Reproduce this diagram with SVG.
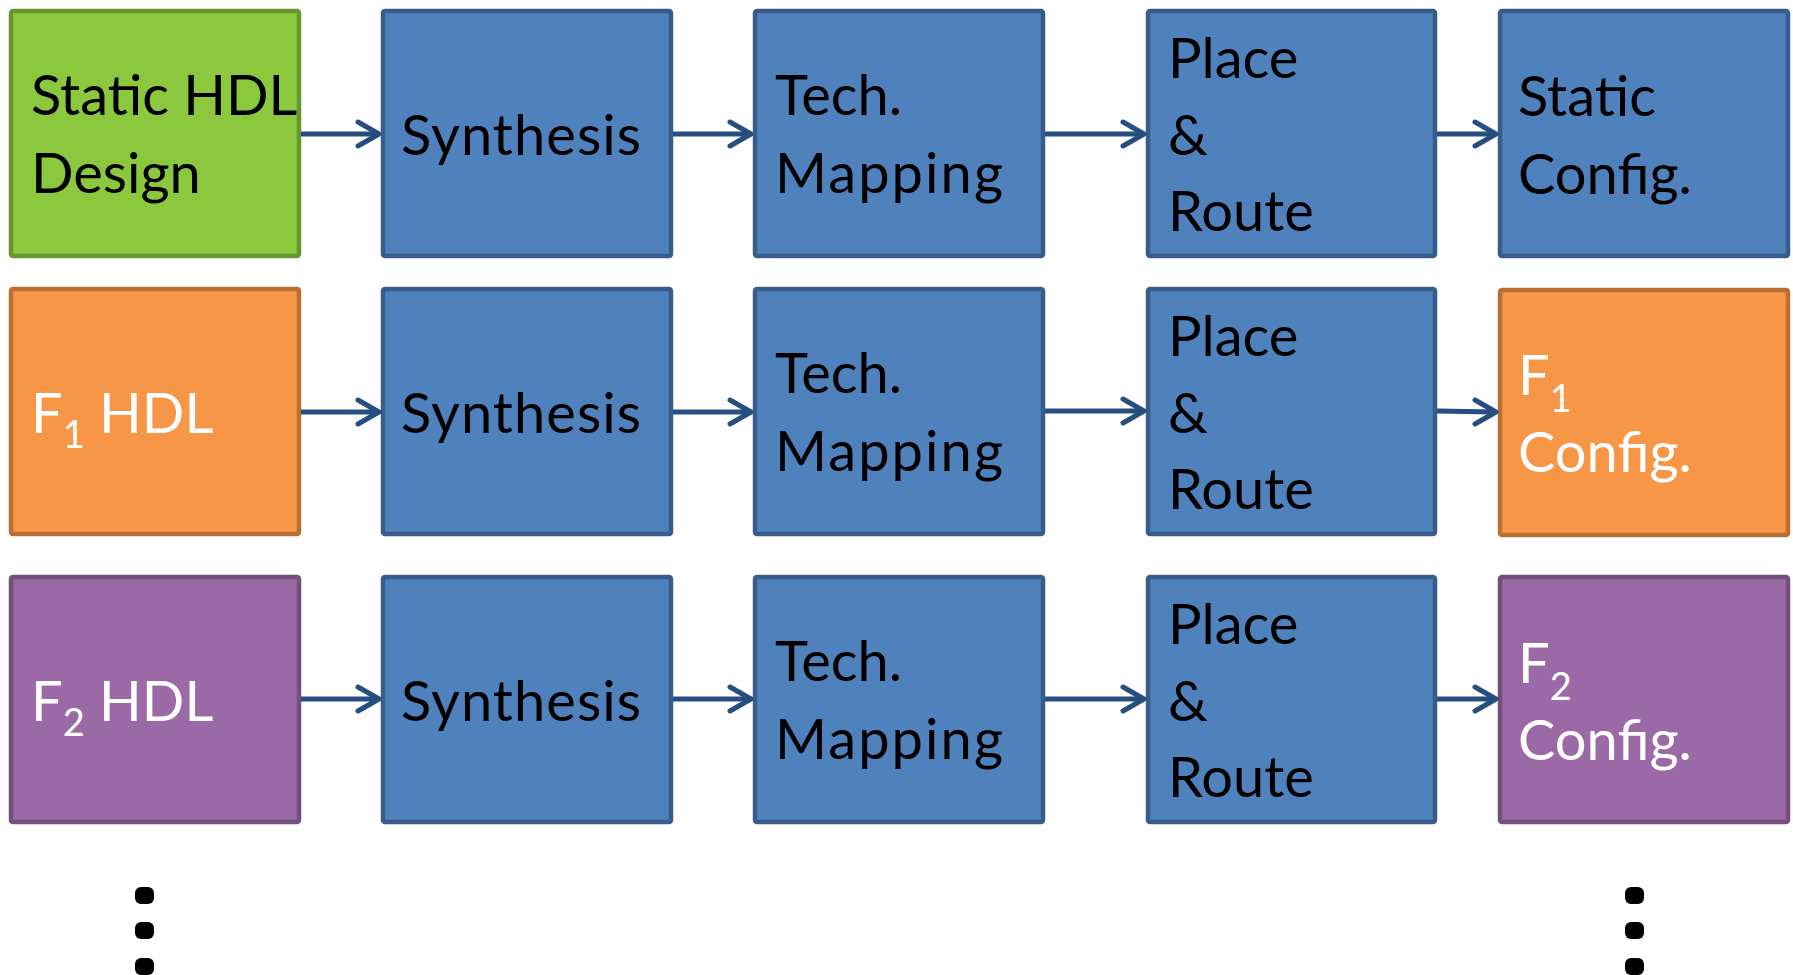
<svg xmlns="http://www.w3.org/2000/svg" width="1793" height="975" viewBox="0 0 1793 975">
  <defs>
    <style>
      .box { stroke-width: 4.5; }
      .green { fill: #8BC83D; stroke: #66962F; }
      .blue { fill: #4F81BD; stroke: #385D8A; }
      .orange { fill: #F79646; stroke: #B86F33; }
      .purple { fill: #9B69A6; stroke: #73507C; }
      .lbl { font-family: Lato, "Open Sans", "Noto Sans", sans-serif; font-size: 56px; }
      .dark { fill: #000000; }
      .light { fill: #FFFFFF; }
      .sub { font-size: 38px; }
      .conn line { stroke: #264E80; stroke-width: 5; }
      .conn path { fill: none; stroke: #264E80; stroke-width: 5; stroke-linecap: round; stroke-linejoin: round; }
      .dot { fill: #000000; }
    </style>
    <!-- one row of the flow: HDL source, synthesis, mapping, place & route, bitstream -->
  </defs>

  <rect width="1793" height="975" fill="#FFFFFF"/>

  <!-- Row 1: static design -->
  <g id="static-hdl">
    <rect class="box green" x="11" y="11" width="288" height="245" rx="2"/>
    <text class="lbl dark" x="31" y="115">Static HDL</text>
    <text class="lbl dark" x="31" y="193">Design</text>
  </g>
  <g id="synthesis-1">
    <rect class="box blue" x="383" y="11" width="288" height="245" rx="2"/>
    <text class="lbl dark" x="401" y="155" textLength="240">Synthesis</text>
  </g>
  <g id="mapping-1">
    <rect class="box blue" x="755" y="11" width="288" height="245" rx="2"/>
    <text class="lbl dark" x="775" y="115">Tech.</text>
    <text class="lbl dark" x="775" y="193" textLength="228">Mapping</text>
  </g>
  <g id="par-1">
    <rect class="box blue" x="1148" y="11" width="287" height="245" rx="2"/>
    <text class="lbl dark" x="1168" y="78">Place</text>
    <text class="lbl dark" x="1168" y="155">&amp;</text>
    <text class="lbl dark" x="1168" y="231">Route</text>
  </g>
  <g id="static-config">
    <rect class="box blue" x="1500" y="11" width="288" height="245" rx="2"/>
    <text class="lbl dark" x="1518" y="116">Static</text>
    <text class="lbl dark" x="1518" y="194">Config.</text>
  </g>

  <!-- Row 2: function F1 -->
  <g id="f1-hdl">
    <rect class="box orange" x="11" y="289" width="288" height="245" rx="2"/>
    <text class="lbl light" x="31" y="433">F<tspan class="sub" dy="15">1</tspan><tspan dy="-15"> HDL</tspan></text>
  </g>
  <g id="synthesis-2">
    <rect class="box blue" x="383" y="289" width="288" height="245" rx="2"/>
    <text class="lbl dark" x="401" y="433" textLength="240">Synthesis</text>
  </g>
  <g id="mapping-2">
    <rect class="box blue" x="755" y="289" width="288" height="245" rx="2"/>
    <text class="lbl dark" x="775" y="393">Tech.</text>
    <text class="lbl dark" x="775" y="471" textLength="228">Mapping</text>
  </g>
  <g id="par-2">
    <rect class="box blue" x="1148" y="289" width="287" height="245" rx="2"/>
    <text class="lbl dark" x="1168" y="356">Place</text>
    <text class="lbl dark" x="1168" y="433">&amp;</text>
    <text class="lbl dark" x="1168" y="509">Route</text>
  </g>
  <g id="f1-config">
    <rect class="box orange" x="1500" y="290" width="288" height="245" rx="2"/>
    <text class="lbl light" x="1518" y="395">F<tspan class="sub" dy="17">1</tspan></text>
    <text class="lbl light" x="1518" y="472">Config.</text>
  </g>

  <!-- Row 3: function F2 -->
  <g id="f2-hdl">
    <rect class="box purple" x="11" y="577" width="288" height="245" rx="2"/>
    <text class="lbl light" x="31" y="721">F<tspan class="sub" dy="15">2</tspan><tspan dy="-15"> HDL</tspan></text>
  </g>
  <g id="synthesis-3">
    <rect class="box blue" x="383" y="577" width="288" height="245" rx="2"/>
    <text class="lbl dark" x="401" y="721" textLength="240">Synthesis</text>
  </g>
  <g id="mapping-3">
    <rect class="box blue" x="755" y="577" width="288" height="245" rx="2"/>
    <text class="lbl dark" x="775" y="681">Tech.</text>
    <text class="lbl dark" x="775" y="759" textLength="228">Mapping</text>
  </g>
  <g id="par-3">
    <rect class="box blue" x="1148" y="577" width="287" height="245" rx="2"/>
    <text class="lbl dark" x="1168" y="644">Place</text>
    <text class="lbl dark" x="1168" y="721">&amp;</text>
    <text class="lbl dark" x="1168" y="797">Route</text>
  </g>
  <g id="f2-config">
    <rect class="box purple" x="1500" y="577" width="288" height="245" rx="2"/>
    <text class="lbl light" x="1518" y="683">F<tspan class="sub" dy="17">2</tspan></text>
    <text class="lbl light" x="1518" y="760">Config.</text>
  </g>

  <!-- Connectors: straight line plus open chevron head -->
  <g id="connectors" class="conn">
    <line x1="301" y1="134" x2="378" y2="134"/><path d="M358,122 L379,134 L358,146"/>
    <line x1="673" y1="134" x2="750" y2="134"/><path d="M730,122 L751,134 L730,146"/>
    <line x1="1045" y1="134" x2="1143" y2="134"/><path d="M1123,122 L1144,134 L1123,146"/>
    <line x1="1437" y1="134" x2="1495" y2="134"/><path d="M1475,122 L1496,134 L1475,146"/>

    <line x1="301" y1="412" x2="378" y2="412"/><path d="M358,400 L379,412 L358,424"/>
    <line x1="673" y1="412" x2="750" y2="412"/><path d="M730,400 L751,412 L730,424"/>
    <line x1="1045" y1="411" x2="1143" y2="411"/><path d="M1123,399 L1144,411 L1123,423"/>
    <line x1="1437" y1="411" x2="1495" y2="412"/><path d="M1475,400 L1496,412 L1475,424"/>

    <line x1="301" y1="699" x2="378" y2="699"/><path d="M358,687 L379,699 L358,711"/>
    <line x1="673" y1="699" x2="750" y2="699"/><path d="M730,687 L751,699 L730,711"/>
    <line x1="1045" y1="699" x2="1143" y2="699"/><path d="M1123,687 L1144,699 L1123,711"/>
    <line x1="1437" y1="699" x2="1495" y2="699"/><path d="M1475,687 L1496,699 L1475,711"/>
  </g>

  <!-- Vertical ellipses below the first and last columns -->
  <g id="ellipsis-left">
    <rect class="dot" x="135" y="887" width="19" height="17" rx="6"/>
    <rect class="dot" x="135" y="922" width="19" height="17" rx="6"/>
    <rect class="dot" x="135" y="958" width="19" height="17" rx="6"/>
  </g>
  <g id="ellipsis-right">
    <rect class="dot" x="1625" y="887" width="19" height="17" rx="6"/>
    <rect class="dot" x="1625" y="922" width="19" height="17" rx="6"/>
    <rect class="dot" x="1625" y="958" width="19" height="17" rx="6"/>
  </g>
</svg>
